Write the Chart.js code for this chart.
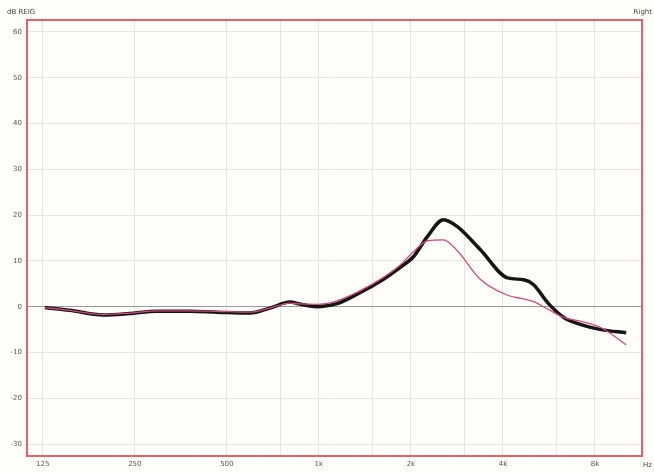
<!DOCTYPE html>
<html>
<head>
<meta charset="utf-8">
<script src="https://cdn.jsdelivr.net/npm/chart.js@4"></script>
<style>
  html, body { margin: 0; padding: 0; background: #fffef9; }
  #wrap { width: 654px; height: 473px; }
</style>
</head>
<body>
<div id="wrap"><canvas id="gainChart"></canvas></div>
<script>
// frequencies (Hz) and gain (dB)
const freqs = [127, 153, 197, 240, 295, 379, 464, 595, 692, 804, 866, 980, 1139, 1357, 1617, 1838, 2038, 2264, 2554, 2837, 3370, 4141, 4670, 5040, 5600, 6340, 7200, 8380, 10120];
const measured = [-0.2, -0.8, -1.8, -1.5, -1.0, -1.0, -1.2, -1.4, -0.3, 1.0, 0.6, 0.0, 0.6, 3.0, 5.9, 8.5, 10.9, 15.3, 19.0, 17.5, 12.5, 6.3, 5.9, 4.8, 0.9, -2.4, -3.9, -5.0, -5.7];
const target = [-0.2, -0.8, -1.7, -1.4, -0.9, -0.9, -1.0, -1.2, -0.3, 0.8, 0.6, 0.5, 1.2, 3.4, 6.3, 9.0, 12.0, 14.4, 14.6, 12.2, 6.0, 2.5, 1.7, 1.1, -0.5, -2.4, -3.2, -4.6, -8.3];

const xGridTicks = [125, 250, 500, 750, 1000, 1500, 2000, 3000, 4000, 6000, 8000];
const xLabels = { 125: '125', 250: '250', 500: '500', 1000: '1k', 2000: '2k', 4000: '4k', 8000: '8k' };
const yTicks = [-30, -20, -10, 0, 10, 20, 30, 40, 50, 60];

const toPoints = vals => freqs.map((f, i) => ({ x: f, y: vals[i] }));

const frame = {
    id: 'frame',
    afterDraw(chart) {
        const { ctx, chartArea: a } = chart;
        ctx.save();
        ctx.strokeStyle = '#e2626c';
        ctx.lineWidth = 2;
        ctx.strokeRect(a.left, a.top, a.right - a.left, a.bottom - a.top);
        ctx.fillStyle = '#444';
        ctx.font = '7px "DejaVu Sans"';
        ctx.textBaseline = 'middle';
        ctx.textAlign = 'left';
        ctx.fillText('dB REIG', 7, 12);
        ctx.textAlign = 'right';
        ctx.fillText('Right', 652, 12);
        ctx.fillText('Hz', 652, 465);
        ctx.restore();
    }
};

new Chart(document.getElementById('gainChart'), {
    type: 'line',
    data: {
        datasets: [{
            label: 'Target',
            data: toPoints(target),
            borderColor: '#cc4a7c',
            borderWidth: 1.3,
            pointRadius: 0,
            cubicInterpolationMode: 'monotone'
        }, {
            label: 'Measured',
            data: toPoints(measured),
            borderColor: '#151515',
            borderWidth: 3.5,
            pointRadius: 0,
            cubicInterpolationMode: 'monotone'
        }]
    },
    options: {
        animation: false,
        responsive: true,
        maintainAspectRatio: false,
        layout: { padding: { top: 20, right: 12, left: 0, bottom: 0 } },
        plugins: { legend: { display: false }, tooltip: { enabled: false } },
        scales: {
            x: {
                type: 'logarithmic',
                min: 111,
                max: 11400,
                afterBuildTicks: s => { s.ticks = xGridTicks.map(v => ({ value: v })); },
                afterFit: s => { s.height = 17; },
                ticks: {
                    autoSkip: false,
                    maxRotation: 0,
                    padding: 4,
                    color: '#555',
                    font: { family: 'DejaVu Sans', size: 7 },
                    callback: v => xLabels[v] || ''
                },
                grid: { color: '#e4e4e4', drawTicks: false },
                border: { display: false }
            },
            y: {
                min: -32.6,
                max: 62.6,
                afterBuildTicks: s => { s.ticks = yTicks.map(v => ({ value: v })); },
                afterFit: s => { s.width = 27; },
                ticks: {
                    padding: 5,
                    color: '#555',
                    font: { family: 'DejaVu Sans', size: 7 }
                },
                grid: {
                    color: ctx => ctx.tick && ctx.tick.value === 0 ? '#9a9a9a' : '#e4e4e4',
                    drawTicks: false
                },
                border: { display: false }
            }
        }
    },
    plugins: [frame]
});
</script>
</body>
</html>
